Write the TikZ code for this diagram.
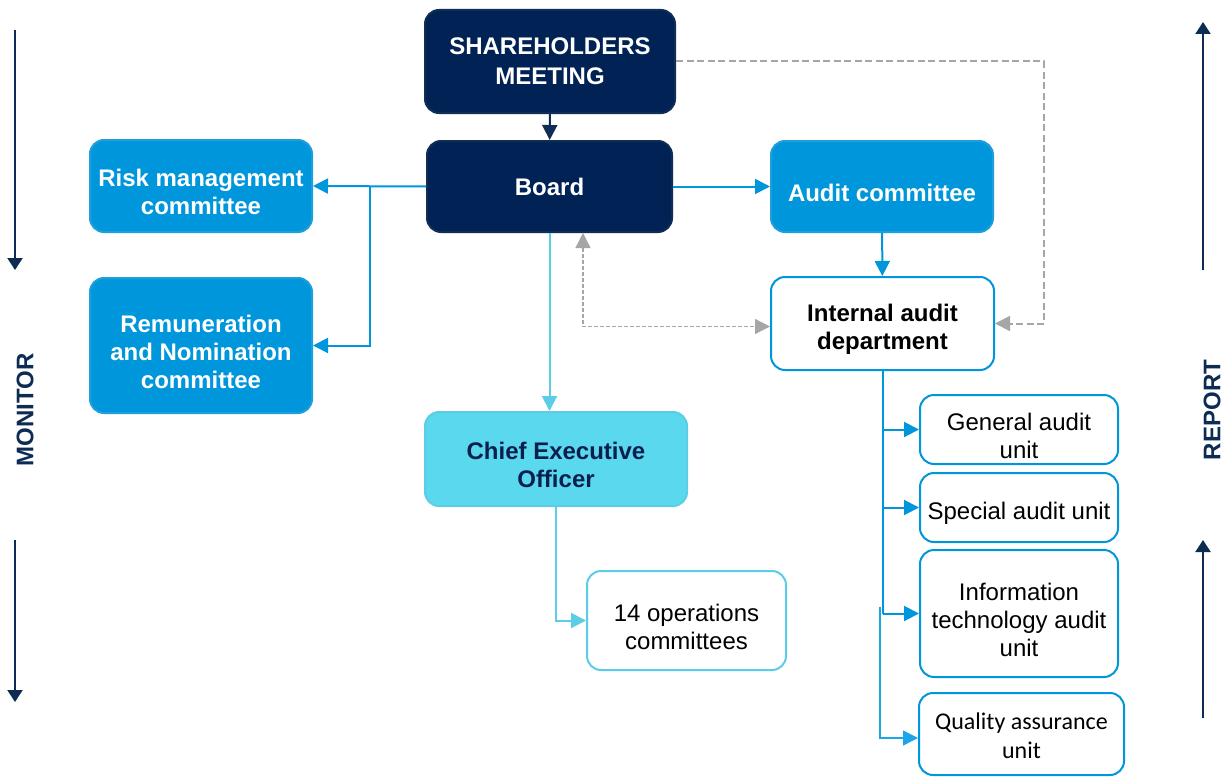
\documentclass[tikz,border=0pt]{standalone}
\usepackage{fontspec}
\setmainfont{Liberation Sans}
\newfontfamily\carlitofont{Carlito}
\usetikzlibrary{arrows.meta}
\definecolor{navy}{HTML}{002254}
\definecolor{navyedge}{HTML}{0F2D55}
\definecolor{midblue}{HTML}{0096DB}
\definecolor{midedge}{HTML}{1E9FDC}
\definecolor{thinblue}{HTML}{1AA6E8}
\definecolor{cyanfill}{HTML}{59D8EE}
\definecolor{cyanedge}{HTML}{5BCDE6}
\definecolor{dashgray}{HTML}{A6A6A6}
\definecolor{ceotext}{HTML}{0B1F4E}
\definecolor{sidenavy}{HTML}{0D2C54}
\tikzset{
  box/.style={rounded corners=14pt, align=center, inner sep=0pt, line width=2pt},
  navybox/.style={box, fill=navy, draw=navyedge, text=white, font=\bfseries\fontsize{24}{30}\selectfont},
  bluebox/.style={box, fill=midblue, draw=midedge},
  cyanbox/.style={box, fill=cyanfill, draw=cyanedge},
  whitebox/.style={box, fill=white, draw=midblue},
  bluelbl/.style={align=center, inner sep=0pt, yshift=-6pt, text=white, font=\bfseries\fontsize{24}{28}\selectfont},
  ceolbl/.style={bluelbl, text=ceotext},
  blacklbl/.style={bluelbl, text=black},
  plainlbl/.style={align=center, inner sep=0pt, yshift=-6pt, text=black, font=\fontsize{24}{28}\selectfont},
  arr/.style={-{Triangle[length=15pt,width=15pt]}, line width=2pt},
  thinarr/.style={-{Triangle[length=15pt,width=15pt]}, line width=1.2pt},
  grayarr/.style={-{Triangle[length=15pt,width=15pt]}, dashgray, line width=2pt, dash pattern=on 7pt off 3.5pt},
  grayarr2/.style={{Triangle[length=15pt,width=15pt]}-{Triangle[length=15pt,width=15pt]}, dashgray, line width=1.3pt, dash pattern=on 4pt off 2pt},
  sidearr/.style={-{Triangle[length=12pt,width=15pt]}, sidenavy, line width=2.2pt},
  sidelabel/.style={rotate=90, text=sidenavy, font=\bfseries\fontsize{24}{28}\selectfont}
}
\begin{document}
\begin{tikzpicture}[x=1pt,y=-1pt]
\fill[white] (0,0) rectangle (1225,776);
\useasboundingbox (0,0) rectangle (1225,776);

% nodes
\node[navybox, minimum width=250pt, minimum height=103pt] (sh) at (550,61.5) {SHAREHOLDERS\\MEETING};
\node[navybox, minimum width=245pt, minimum height=91pt] (board) at (549.5,186.5) {Board};
\node[bluebox, minimum width=222pt, minimum height=92pt,
  label={[bluelbl]center:Risk management\\committee}] (risk) at (201,186) {};
\node[bluebox, minimum width=222pt, minimum height=135pt,
  label={[bluelbl]center:Remuneration\\and Nomination\\committee}] (rem) at (201,345.5) {};
\node[bluebox, minimum width=222pt, minimum height=91pt,
  label={[bluelbl]center:Audit committee}] (audit) at (882,186.5) {};
\node[whitebox, minimum width=223pt, minimum height=93pt,
  label={[blacklbl]center:Internal audit\\department}] (iad) at (882.5,323.5) {};
\node[cyanbox, minimum width=262pt, minimum height=94pt,
  label={[ceolbl]center:Chief Executive\\Officer}] (ceo) at (556,459) {};
\node[whitebox, draw=cyanedge, minimum width=199pt, minimum height=99pt,
  label={[plainlbl]center:14 operations\\committees}] (ops) at (686.5,620.5) {};
\node[whitebox, minimum width=198pt, minimum height=69pt,
  label={[plainlbl]center:General audit\\unit}] (gau) at (1019,429.5) {};
\node[whitebox, minimum width=198pt, minimum height=69pt,
  label={[plainlbl]center:Special audit unit}] (sau) at (1019,507.5) {};
\node[whitebox, minimum width=198pt, minimum height=127pt,
  label={[plainlbl]center:Information\\technology audit\\unit}] (itu) at (1019,613.5) {};
\node[whitebox, minimum width=205pt, minimum height=82pt,
  label={[plainlbl, yshift=4pt, font=\carlitofont\fontsize{24}{29}\selectfont]center:Quality assurance\\unit}] (qau) at (1021.5,734) {};

% connectors
\draw[arr, navyedge] (sh) -- (board);
\draw[arr, midblue] (board.west) -- (risk.east);
\coordinate (br) at (370,186);
\draw[arr, midblue] (br) |- (rem.east);
\draw[arr, midblue] (board.east) -- (audit.west);
\draw[arr, cyanedge] (board.south) -- (board.south |- ceo.north);
\draw[grayarr2] ([xshift=33.5pt]board.south) |- ([yshift=-3pt]iad.west);
\draw[grayarr] (sh.east) -| ([xshift=49pt]iad.east) -- (iad.east);
\draw[arr, midblue] (audit) -- (iad);
\draw[line width=2pt, midblue] (iad.south) -- (iad.south |- itu.west);
\draw[arr, midblue] (iad.south |- gau.west) -- (gau.west);
\draw[arr, midblue] (iad.south |- sau.west) -- (sau.west);
\draw[arr, midblue] (iad.south |- itu.west) -- (itu.west);
\coordinate (qs) at (880,607);
\draw[thinarr, thinblue] (qs) |- ([yshift=-4pt]qau.west);
\draw[arr, cyanedge] (ceo.south) |- (ops.west);

% side arrows and labels
\coordinate (m1s) at (15,30);
\coordinate (m1e) at (15,270);
\coordinate (m2s) at (15,540);
\coordinate (m2e) at (15,702);
\draw[sidearr] (m1s) -- (m1e);
\draw[sidearr] (m2s) -- (m2e);
\node[sidelabel] (mon) at (25,410) {MONITOR};
\coordinate (r1s) at (1203,270);
\coordinate (r1e) at (1203,22);
\coordinate (r2s) at (1203,718);
\coordinate (r2e) at (1203,540);
\draw[sidearr] (r1s) -- (r1e);
\draw[sidearr] (r2s) -- (r2e);
\node[sidelabel] (rep) at (1212,410) {REPORT};
\end{tikzpicture}
\end{document}
